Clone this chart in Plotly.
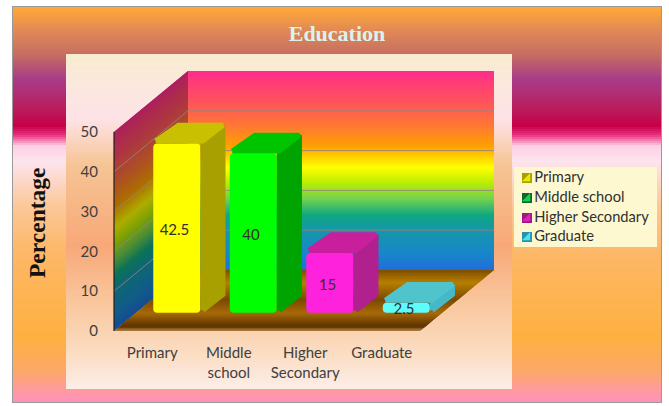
import plotly.graph_objects as go

# ---- data ----
categories = ["Primary", "Middle<br>school", "Higher<br>Secondary", "Graduate"]
series_names = ["Primary", "Middle school", "Higher Secondary", "Graduate"]
values = [42.5, 40, 15, 2.5]
y_ticks = [0, 10, 20, 30, 40, 50]
front_colors = ["#ffff00", "#00ff00", "#ff22dd", "#5ffcfc"]
top_colors = ["#c8c000", "#00c400", "#c8209c", "#4fc4cc"]
side_colors = ["#a8a000", "#00a400", "#b0208e", "#46b8c8"]
legend_swatch = ["#a8a000", "#0a6a30", "#a01880", "#2a90b0"]
legend_light = ["#e8e800", "#18d048", "#e020c0", "#50e0f0"]

W, H = 669, 406
CAT_PX, VAL_PX = 76.5, 3.98      # px per category, px per percent
X0_PX, Y0_PX = 152.25, 331       # where category 0 / value 0 fall on the page
DEPTH_X, DEPTH_Y = 74, 61        # oblique depth of the chart box in px
XR = [(0 - X0_PX) / CAT_PX, (W - X0_PX) / CAT_PX]
YR = [(Y0_PX - H) / VAL_PX, Y0_PX / VAL_PX]


def px_x(p):
    return (p - X0_PX) / CAT_PX


def px_y(p):
    return (Y0_PX - p) / VAL_PX


def proj(cat, val, depth):
    """Oblique projection of (category, value, depth 0..1) to axis coordinates."""
    return cat + depth * DEPTH_X / CAT_PX, val + depth * DEPTH_Y / VAL_PX


def mix(stops, t):
    for (a, ca), (b, cb) in zip(stops, stops[1:]):
        if t <= b:
            f = 0 if b == a else (t - a) / (b - a)
            return tuple(ca[i] + (cb[i] - ca[i]) * f for i in range(3))
    return stops[-1][1]


def rgb(h):
    return tuple(int(h[i:i + 2], 16) for i in (1, 3, 5))


def css(c, k=1.0):
    return "rgb(%d,%d,%d)" % tuple(min(255, round(v * k)) for v in c)


shapes = []


def rect(x0, y0, x1, y1, color):
    shapes.append(dict(type="rect", xref="x", yref="y", x0=px_x(x0), x1=px_x(x1), y0=px_y(y0), y1=px_y(y1),
                       fillcolor=color, line=dict(width=0), layer="below"))


def vgrad(x0, y0, x1, y1, stops, step=2):
    st = [(a, rgb(c)) for a, c in stops]
    y = y0
    while y < y1:
        rect(x0, y, x1, min(y + step + 1, y1), css(mix(st, y)))
        y += step


def poly(pts, color):
    path = "M" + "L".join("%.4f,%.4f" % p for p in pts) + "Z"
    shapes.append(dict(type="path", xref="x", yref="y", path=path, fillcolor=color,
                       line=dict(width=0), layer="below"))


# outer slide background
rect(12, 6, 662, 403, "#9a9a9a")
vgrad(13, 7, 661, 402, [(7, "#ffa838"), (30, "#e08858"), (52, "#c87060"), (78, "#a83c88"), (105, "#b82060"),
                        (125, "#c80048"), (134, "#e83080"), (145, "#fcd0e4"), (160, "#fde4ee"), (205, "#fcc898"),
                        (250, "#fdb868"), (335, "#ffb040"), (370, "#fca868"), (389, "#ff9aa0"), (402, "#ff90c0")])
# inner panel
vgrad(66, 54, 512, 389, [(54, "#f8ecd0"), (85, "#fbe8de"), (118, "#fde2e6"), (165, "#f6c494"), (245, "#f8a878"),
                         (300, "#f9c69c"), (350, "#fbdcc0"), (389, "#fdeee8")])

# back wall: stops given as page rows on the wall
wall_stops = [(70, "#ff2a90"), (85, "#ff4070"), (100, "#ff5060"), (127, "#ff7a30"), (147, "#ffa000"),
              (168, "#ffff00"), (182, "#c0f000"), (200, "#70d050"), (216, "#10a880"), (230, "#1498a8"),
              (253, "#1888c8"), (270, "#2070d8")]
wall_st = [(a, rgb(c)) for a, c in wall_stops]
WALL_TOP = 50
N = 100
for i in range(N):
    v0, v1 = WALL_TOP * i / N, WALL_TOP * min(N, i + 2) / N
    col = mix(wall_st, 270 - 200 * i / N)
    poly([proj(-0.5, v0, 1), proj(3.5, v0, 1), proj(3.5, v1, 1), proj(-0.5, v1, 1)], css(col))
    poly([proj(-0.5, v0, 0), proj(-0.5, v0, 1), proj(-0.5, v1, 1), proj(-0.5, v1, 0)], css(col, 0.68))

# floor
floor_stops = [(0, "#a87838"), (0.06, "#5a3000"), (0.28, "#a86a08"), (0.5, "#7a4800"), (0.78, "#b88000"), (1, "#7a4a00")]
floor_st = [(a, rgb(c)) for a, c in floor_stops]
M = 40
for i in range(M):
    d0, d1 = i / M, min(M, i + 2) / M
    poly([proj(-0.5, 0, d0), proj(3.5, 0, d0), proj(3.5, 0, d1), proj(-0.5, 0, d1)], css(mix(floor_st, d0)))

# grid lines on the walls
for v in y_ticks[1:-1]:
    for a, b in ((proj(-0.5, v, 0), proj(-0.5, v, 1)), (proj(-0.5, v, 1), proj(3.5, v, 1))):
        shapes.append(dict(type="line", xref="x", yref="y", x0=a[0], y0=a[1], x1=b[0], y1=b[1],
                           line=dict(color="rgba(150,130,130,0.85)", width=1), layer="below"))
# dark axis edge
a, b = proj(-0.5, 0, 0), proj(-0.5, 50, 0)
shapes.append(dict(type="line", xref="x", yref="y", x0=a[0], y0=a[1], x1=b[0], y1=b[1],
                   line=dict(color="#202020", width=1.2), layer="below"))
# legend box
rect(514, 167, 657, 247, "#fdf8d0")

fig = go.Figure()

# bars
D0, D1 = 0.28, 0.62
BAR_W = 0.615
SHIFT = 0.05
base = D0 * DEPTH_Y / VAL_PX + 0.3
fx = D0 * DEPTH_X / CAT_PX + SHIFT
RX, RY = 2.5 / CAT_PX, 2.5 / VAL_PX      # corner rounding of the 3D faces
for i, (name, v) in enumerate(zip(series_names, values)):
    fig.add_trace(go.Bar(x=[i + fx], y=[v], base=[base], width=BAR_W, name=name,
                         marker=dict(color=front_colors[i], line=dict(width=0), cornerradius=4),
                         showlegend=False, hoverinfo="name+y"))
for i, v in enumerate(values):
    xl, xr = i + fx - BAR_W / 2, i + fx + BAR_W / 2
    dd = D1 - D0
    ox, oy = dd * DEPTH_X / CAT_PX, dd * DEPTH_Y / VAL_PX
    top = base + v
    fig.add_trace(go.Scatter(x=[xr + RX, xr + ox - RX, xr + ox - RX, xr + RX, xr + RX],
                             y=[base + RY, base + oy - RY, top + oy - RY, top, base + RY],
                             mode="lines", fill="toself", fillcolor=side_colors[i],
                             line=dict(color=side_colors[i], width=5), showlegend=False, hoverinfo="skip"))
    fig.add_trace(go.Scatter(x=[xl + RX, xl + ox, xr + ox - RX, xr + RX, xl + RX],
                             y=[top + RY, top + oy - RY, top + oy - RY, top + RY, top + RY],
                             mode="lines", fill="toself", fillcolor=top_colors[i],
                             line=dict(color=top_colors[i], width=5), showlegend=False, hoverinfo="skip"))

# data labels
fig.add_trace(go.Scatter(x=[i + fx - 0.03 for i in range(4)], y=[base + v / 2 - 0.75 for v in values],
                         mode="text", text=[str(v) for v in values], textposition="middle center",
                         textfont=dict(family="Lato", size=15, color="#303030"), showlegend=False, hoverinfo="skip"))

# legend (compact swatches as in the reference)
leg_py = [178, 198, 218, 237]
fig.add_trace(go.Scatter(x=[px_x(527)] * 4, y=[px_y(p) for p in leg_py], mode="markers+text",
                         marker=dict(symbol="square", size=10, color=legend_swatch),
                         text=series_names, textposition="middle right",
                         textfont=dict(family="Lato", size=14.7, color="#303030"),
                         showlegend=False, hoverinfo="skip"))
fig.add_trace(go.Scatter(x=[px_x(527.5)] * 4, y=[px_y(p + 0.5) for p in leg_py], mode="markers",
                         marker=dict(symbol="triangle-se", size=9, color=legend_light),
                         showlegend=False, hoverinfo="skip"))

fig.update_layout(
    width=W, height=H, autosize=False,
    margin=dict(l=0, r=0, t=0, b=0),
    paper_bgcolor="white", plot_bgcolor="rgba(0,0,0,0)",
    barmode="overlay", showlegend=False,
    shapes=shapes,
    title=dict(text="<b>Education</b>", x=337 / W, y=1 - 33 / H, xanchor="center", yanchor="middle",
               font=dict(family="Liberation Serif", size=22, color="#d8f4f0")),
    annotations=[dict(text="<b>Percentage</b>", xref="paper", yref="paper", x=37 / W, y=1 - 223 / H,
                      xanchor="center", yanchor="middle", textangle=-90, showarrow=False,
                      font=dict(family="Liberation Serif", size=23.5, color="#111111"))],
    font=dict(family="Lato", size=15, color="#404040"),
    xaxis=dict(range=XR, domain=[0, 1], anchor="free", position=1 - Y0_PX / H,
               tickmode="array", tickvals=list(range(4)), ticktext=categories,
               showgrid=False, zeroline=False, showline=False, ticks="outside", ticklen=8,
               tickcolor="rgba(0,0,0,0)", tickangle=0, tickfont=dict(family="Lato", size=15, color="#404040"),
               automargin=False, fixedrange=True),
    yaxis=dict(range=YR, domain=[0, 1], anchor="free", position=(114) / W,
               tickmode="array", tickvals=y_ticks, ticktext=[str(t) for t in y_ticks],
               showgrid=False, zeroline=False, showline=False, ticks="outside", ticklen=13,
               tickcolor="rgba(0,0,0,0)", tickfont=dict(family="Lato", size=15, color="#404040"),
               automargin=False, fixedrange=True),
)

fig.write_html("out.html", config=dict(displayModeBar=False),
               post_script="document.body.style.margin='0';document.body.style.overflow='hidden';")
